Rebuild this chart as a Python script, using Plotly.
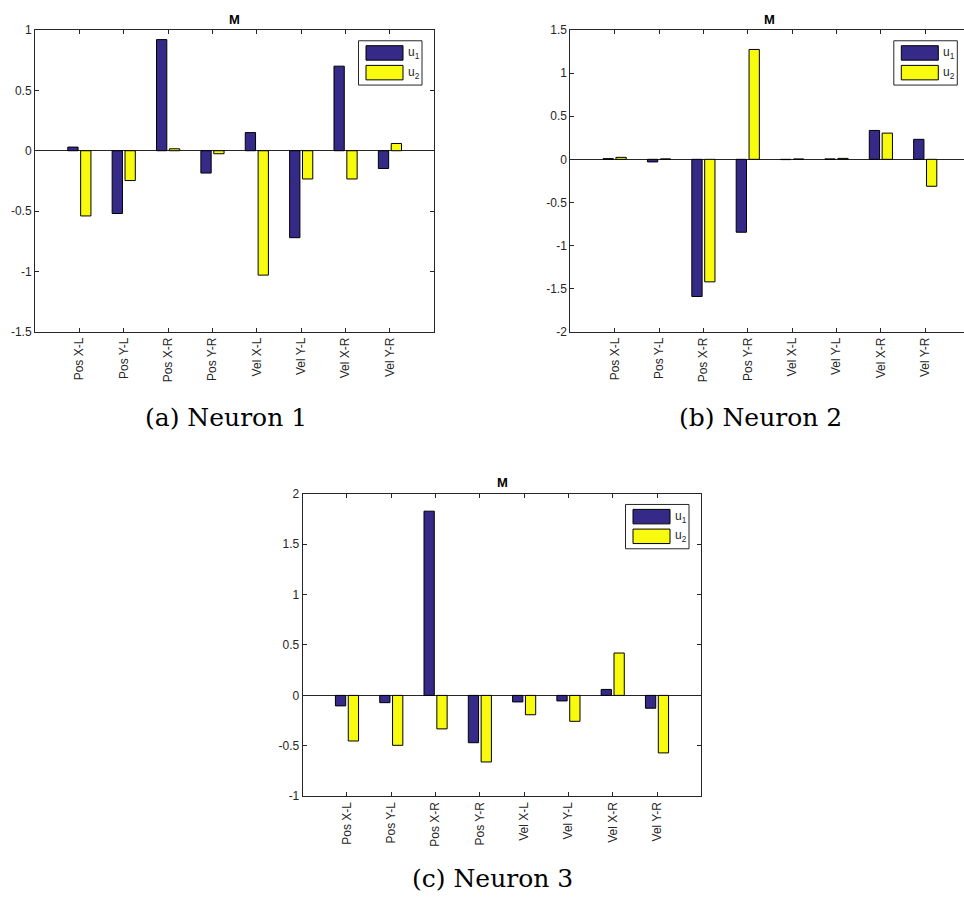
import plotly.graph_objects as go

# ---- data -------------------------------------------------------------
categories = ["Pos X-L", "Pos Y-L", "Pos X-R", "Pos Y-R",
              "Vel X-L", "Vel Y-L", "Vel X-R", "Vel Y-R"]

neuron1_u1 = [0.03, -0.52, 0.92, -0.185, 0.15, -0.72, 0.70, -0.147]
neuron1_u2 = [-0.54, -0.247, 0.016, -0.025, -1.03, -0.234, -0.234, 0.06]

neuron2_u1 = [0.008, -0.03, -1.59, -0.845, -0.003, 0.005, 0.335, 0.232]
neuron2_u2 = [0.023, 0.005, -1.42, 1.274, 0.004, 0.011, 0.304, -0.312]

neuron3_u1 = [-0.104, -0.072, 1.826, -0.469, -0.065, -0.055, 0.059, -0.127]
neuron3_u2 = [-0.452, -0.495, -0.332, -0.66, -0.192, -0.257, 0.42, -0.57]

yticks_1 = [-1.5, -1, -0.5, 0, 0.5, 1]
yticks_2 = [-2, -1.5, -1, -0.5, 0, 0.5, 1, 1.5]
yticks_3 = [-1, -0.5, 0, 0.5, 1, 1.5, 2]

series_names = ["u<sub>1</sub>", "u<sub>2</sub>"]
captions = ["(a) Neuron 1", "(b) Neuron 2", "(c) Neuron 3"]

# ---- styling ----------------------------------------------------------
W, H = 964, 903
C_U1 = "#352a87"   # parula low end
C_U2 = "#f9fb0e"   # parula high end
AX = "#262626"
SANS = "Liberation Sans, Arial, Helvetica, sans-serif"
SERIF = "DejaVu Serif, serif"

# axes boxes in pixels: left, top, width, height (full box, may run off-page)
panels = [
    dict(left=35.0, top=23.3, w=399.3, h=306.7, cap=(226, 416.7)),
    dict(left=570.3, top=23.3, w=399.3, h=306.7, cap=(760, 416.7)),
    dict(left=302.7, top=494.3, w=398.6, h=307.4, cap=(493, 885)),
]
data_sets = [(neuron1_u1, neuron1_u2, yticks_1),
             (neuron2_u1, neuron2_u2, yticks_2),
             (neuron3_u1, neuron3_u2, yticks_3)]


def px(x):
    return x / W


def py(y):
    return 1 - y / H


xpos = list(range(1, len(categories) + 1))
fig = go.Figure()
shapes, annotations = [], []
layout_axes = {}

for i, (p, (u1, u2, yt)) in enumerate(zip(panels, data_sets), start=1):
    sfx = "" if i == 1 else str(i)
    xa, ya = "x" + sfx, "y" + sfx

    fig.add_trace(go.Bar(x=xpos, y=u1, name=series_names[0], marker_color=C_U1,
                         marker_line=dict(color="black", width=1),
                         xaxis=xa, yaxis=ya, showlegend=False))
    fig.add_trace(go.Bar(x=xpos, y=u2, name=series_names[1], marker_color=C_U2,
                         marker_line=dict(color="black", width=1),
                         xaxis=xa, yaxis=ya, showlegend=False))

    right = p["left"] + p["w"]
    vis_right = min(right, W)
    xmax = (len(categories) + 1) * (vis_right - p["left"]) / p["w"]
    clipped = vis_right < right

    layout_axes["xaxis" + sfx] = dict(
        domain=[px(p["left"]), px(vis_right)], anchor=ya,
        range=[0, xmax], tickvals=xpos, ticktext=categories, tickangle=-90,
        ticks="inside", ticklen=4, tickcolor=AX, showline=True, linecolor=AX,
        linewidth=1, mirror="ticks", showgrid=False, zeroline=False,
        tickfont=dict(family=SANS, size=12, color=AX), fixedrange=True)
    layout_axes["yaxis" + sfx] = dict(
        domain=[py(p["top"] + p["h"]), py(p["top"])], anchor=xa,
        range=[yt[0], yt[-1]], tickvals=yt, ticktext=[f"{v:g}" for v in yt],
        ticks="inside", ticklen=4, tickcolor=AX, showline=True, linecolor=AX,
        linewidth=1, mirror=False if clipped else "ticks", showgrid=False,
        zeroline=True, zerolinecolor=AX, zerolinewidth=1,
        tickfont=dict(family=SANS, size=12, color=AX), fixedrange=True)

    # panel title
    annotations.append(dict(text="<b>M</b>", x=px(p["left"] + p["w"] / 2),
                            y=py(p["top"] - 11), xref="paper", yref="paper",
                            showarrow=False, xanchor="center", yanchor="middle",
                            font=dict(family=SANS, size=13, color="black")))

    # legend box with wide swatches
    bx1 = right - 12.3
    bx0 = bx1 - 63.5
    by0 = p["top"] + 11
    by1 = by0 + 45
    shapes.append(dict(type="rect", xref="paper", yref="paper",
                       x0=px(bx0), x1=px(bx1), y0=py(by1), y1=py(by0),
                       line=dict(color=AX, width=1), fillcolor="white"))
    for k, col in enumerate([C_U1, C_U2]):
        sy0 = by0 + 5 + k * 20
        sx0 = bx0 + 7.5
        shapes.append(dict(type="rect", xref="paper", yref="paper",
                           x0=px(sx0), x1=px(sx0 + 37), y0=py(sy0 + 14.7),
                           y1=py(sy0), line=dict(color="black", width=1),
                           fillcolor=col))
        annotations.append(dict(text=series_names[k], x=px(sx0 + 40),
                                y=py(sy0 + 7.3), xref="paper", yref="paper",
                                showarrow=False, xanchor="left", yanchor="middle",
                                font=dict(family=SANS, size=12, color=AX)))

    # sub-figure caption
    annotations.append(dict(text=captions[i - 1], x=px(p["cap"][0]),
                            y=py(p["cap"][1]), xref="paper", yref="paper",
                            showarrow=False, xanchor="center", yanchor="middle",
                            font=dict(family=SERIF, size=25, color="black")))

fig.update_layout(
    width=W, height=H, margin=dict(l=0, r=0, t=0, b=0),
    paper_bgcolor="white", plot_bgcolor="white",
    barmode="group", bargap=0.42, bargroupgap=0.2,
    shapes=shapes, annotations=annotations, showlegend=False,
    **layout_axes)

fig.write_html("out.html")
